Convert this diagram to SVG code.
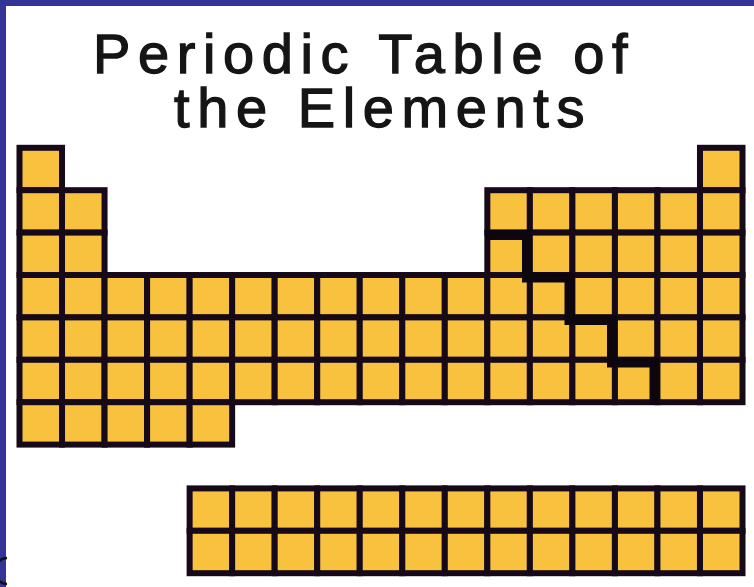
<svg xmlns="http://www.w3.org/2000/svg" xmlns:xlink="http://www.w3.org/1999/xlink" width="754" height="587" viewBox="0 0 754 587">
<style>
.cell{fill:#F8C13E;stroke:#16091A;stroke-width:6}
.title{font-family:"Liberation Sans",Arial,sans-serif;font-size:56px;fill:#151515;stroke:#151515;stroke-width:1.3px;letter-spacing:7.6px}
.frame{fill:#343397}
.stair{fill:none;stroke:#0E060F;stroke-width:10;stroke-linejoin:miter;stroke-linecap:butt}
</style>
<defs>
<rect id="c" width="42.53" height="42.4" class="cell"/>
<g id="fullrow">
<use xlink:href="#c" x="19.5"/><use xlink:href="#c" x="62.03"/><use xlink:href="#c" x="104.56"/><use xlink:href="#c" x="147.09"/><use xlink:href="#c" x="189.62"/><use xlink:href="#c" x="232.15"/><use xlink:href="#c" x="274.68"/><use xlink:href="#c" x="317.21"/><use xlink:href="#c" x="359.74"/><use xlink:href="#c" x="402.27"/><use xlink:href="#c" x="444.8"/><use xlink:href="#c" x="487.33"/><use xlink:href="#c" x="529.86"/><use xlink:href="#c" x="572.39"/><use xlink:href="#c" x="614.92"/><use xlink:href="#c" x="657.45"/><use xlink:href="#c" x="699.98"/>
</g>
<g id="shortrow">
<use xlink:href="#c" x="19.5"/><use xlink:href="#c" x="62.03"/><use xlink:href="#c" x="487.33"/><use xlink:href="#c" x="529.86"/><use xlink:href="#c" x="572.39"/><use xlink:href="#c" x="614.92"/><use xlink:href="#c" x="657.45"/><use xlink:href="#c" x="699.98"/>
</g>
<g id="frow">
<use xlink:href="#c" x="189.62"/><use xlink:href="#c" x="232.15"/><use xlink:href="#c" x="274.68"/><use xlink:href="#c" x="317.21"/><use xlink:href="#c" x="359.74"/><use xlink:href="#c" x="402.27"/><use xlink:href="#c" x="444.8"/><use xlink:href="#c" x="487.33"/><use xlink:href="#c" x="529.86"/><use xlink:href="#c" x="572.39"/><use xlink:href="#c" x="614.92"/><use xlink:href="#c" x="657.45"/><use xlink:href="#c" x="699.98"/>
</g>
</defs>
<rect width="754" height="587" fill="#ffffff"/>
<g id="title">
<text class="title" x="93" y="73">Periodic Table of</text>
<text class="title" x="174" y="127">the Elements</text>
</g>
<g id="period1">
<use xlink:href="#c" x="19.5" y="147.8"/>
<use xlink:href="#c" x="699.98" y="147.8"/>
</g>
<g id="period2"><use xlink:href="#shortrow" y="190.2"/></g>
<g id="period3"><use xlink:href="#shortrow" y="232.6"/></g>
<g id="period4"><use xlink:href="#fullrow" y="275"/></g>
<g id="period5"><use xlink:href="#fullrow" y="317.4"/></g>
<g id="period6"><use xlink:href="#fullrow" y="359.8"/></g>
<g id="period7">
<use xlink:href="#c" x="19.5" y="402.2"/><use xlink:href="#c" x="62.03" y="402.2"/><use xlink:href="#c" x="104.56" y="402.2"/><use xlink:href="#c" x="147.09" y="402.2"/><use xlink:href="#c" x="189.62" y="402.2"/>
</g>
<g id="lanthanides"><use xlink:href="#frow" y="488.4"/></g>
<g id="actinides"><use xlink:href="#frow" y="530.8"/></g>
<g id="staircase">
<polyline class="stair" points="485,235 527,235 527,277.5 569.5,277.5 569.5,320 612,320 612,362.5 654.5,362.5 654.5,405"/>
</g>
<g id="frame">
<rect class="frame" x="0" y="0" width="754" height="6"/>
<rect class="frame" x="0" y="0" width="6" height="587"/>
<path d="M7 558 A12 13 0 0 0 7 584" fill="none" stroke="#111" stroke-width="2.5"/>
</g>
</svg>
